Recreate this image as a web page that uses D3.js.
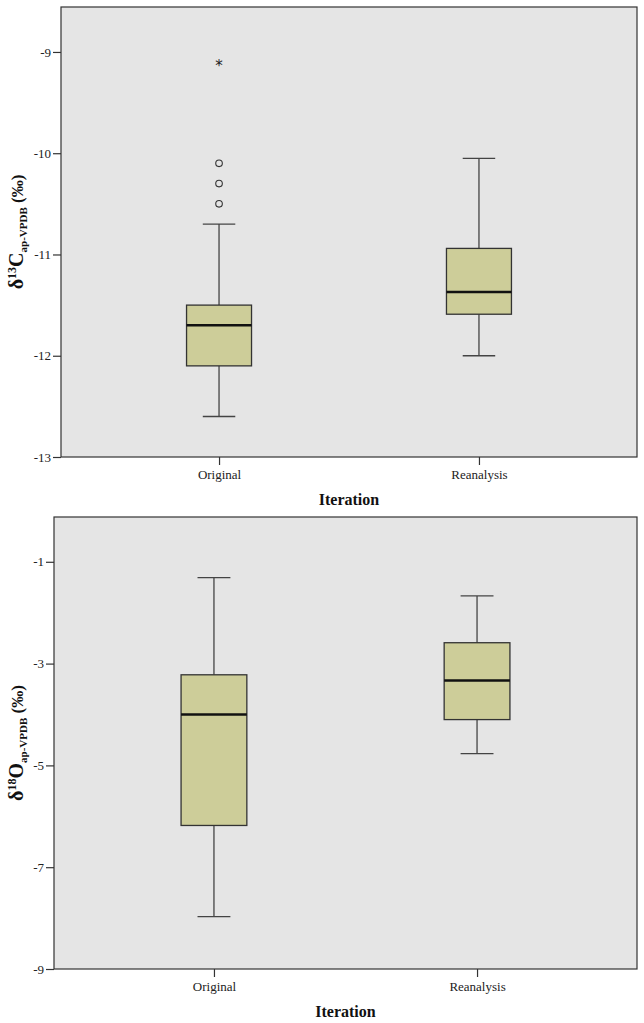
<!DOCTYPE html>
<html>
<head>
<meta charset="utf-8">
<script src="https://cdn.jsdelivr.net/npm/d3@7"></script>
<style>
  body { margin: 0; background: #fff; }
  svg { display: block; font-family: "Liberation Serif", "Times New Roman", serif; }
</style>
</head>
<body>
<div id="chart"></div>
<script>
const groups = ['Original', 'Reanalysis'];

// δ13C panel
const c13Low = [-12.6, -12.0];
const c13Q1 = [-12.1, -11.59];
const c13Median = [-11.7, -11.37];
const c13Q3 = [-11.5, -10.94];
const c13High = [-10.7, -10.05];
const c13Outliers = [[-10.1, -10.3, -10.5], []];
const c13Extremes = [[-9.1], []];
const c13Ticks = [-13, -12, -11, -10, -9];

// δ18O panel
const o18Low = [-7.97, -4.77];
const o18Q1 = [-6.18, -4.1];
const o18Median = [-4.0, -3.33];
const o18Q3 = [-3.22, -2.59];
const o18High = [-1.31, -1.67];
const o18Outliers = [[], []];
const o18Extremes = [[], []];
const o18Ticks = [-9, -7, -5, -3, -1];

const width = 644;
const height = 1023;
const serif = '"Liberation Serif", "Times New Roman", serif';

const svg = d3.select('#chart').append('svg')
    .attr('width', width)
    .attr('height', height);

drawPanel({
  left: 61, right: 637, top: 7, bottom: 457,
  domain: [-13, -8.556], ticks: c13Ticks,
  low: c13Low, q1: c13Q1, median: c13Median, q3: c13Q3, high: c13High,
  outliers: c13Outliers, extremes: c13Extremes,
  element: 'C', mass: '13', labelX: 23
});

drawPanel({
  left: 54, right: 637, top: 517, bottom: 969,
  domain: [-9, -0.12], ticks: o18Ticks,
  low: o18Low, q1: o18Q1, median: o18Median, q3: o18Q3, high: o18High,
  outliers: o18Outliers, extremes: o18Extremes,
  element: 'O', mass: '18', labelX: 23
});

function drawPanel(p) {
  const x = d3.scalePoint()
      .domain(groups)
      .range([p.left, p.right])
      .padding(0.608);
  const step = x.step();
  const boxW = step * 0.25;
  const capW = boxW / 2;

  const y = d3.scaleLinear()
      .domain(p.domain)
      .range([p.bottom, p.top]);

  const g = svg.append('g');

  // plot background + frame
  g.append('rect')
      .attr('x', p.left)
      .attr('y', p.top)
      .attr('width', p.right - p.left)
      .attr('height', p.bottom - p.top)
      .attr('fill', '#e5e5e5')
      .attr('stroke', '#333')
      .attr('stroke-width', 1.2);

  // y axis
  const yAxis = g.append('g')
      .attr('transform', `translate(${p.left},0)`)
      .call(d3.axisLeft(y).tickValues(p.ticks).tickSize(8).tickPadding(2).tickFormat(d3.format('d')))
      .attr('font-family', serif)
      .attr('font-size', 13);
  yAxis.select('.domain').remove();
  yAxis.selectAll('line').attr('stroke', '#333').attr('stroke-width', 1.2);
  yAxis.selectAll('text')
      .attr('fill', '#222')
      .text(d => '-' + Math.abs(d));

  // x axis
  const xAxis = g.append('g')
      .attr('transform', `translate(0,${p.bottom})`)
      .call(d3.axisBottom(x).tickSize(8).tickPadding(5))
      .attr('font-family', serif)
      .attr('font-size', 13);
  xAxis.select('.domain').remove();
  xAxis.selectAll('line').attr('stroke', '#333').attr('stroke-width', 1.2);
  xAxis.selectAll('text').attr('fill', '#222');

  // x title
  g.append('text')
      .attr('x', (p.left + p.right) / 2)
      .attr('y', p.bottom + 48)
      .attr('text-anchor', 'middle')
      .style('font-size', '16px')
      .style('font-weight', 'bold')
      .attr('fill', '#111')
      .text('Iteration');

  // y title
  const cy = (p.top + p.bottom) / 2;
  const yt = g.append('text')
      .attr('transform', `translate(${p.labelX},${cy}) rotate(-90)`)
      .attr('text-anchor', 'middle')
      .attr('fill', '#111')
      .style('font-weight', 'bold')
      .style('font-size', '20px');
  yt.append('tspan').text('δ');
  yt.append('tspan').attr('dy', -7).style('font-size', '12px').text(p.mass);
  yt.append('tspan').attr('dy', 7).text(p.element);
  yt.append('tspan').attr('dy', 4).style('font-size', '11px').text('ap-VPDB');
  yt.append('tspan').attr('dy', -4).style('font-size', '17px').text(' (‰)');

  // boxes
  groups.forEach((name, i) => {
    const cx = x(name);
    const b = g.append('g');

    // whiskers
    b.append('line')
        .attr('x1', cx).attr('x2', cx)
        .attr('y1', y(p.high[i])).attr('y2', y(p.q3[i]))
        .attr('stroke', '#444').attr('stroke-width', 1.3);
    b.append('line')
        .attr('x1', cx).attr('x2', cx)
        .attr('y1', y(p.q1[i])).attr('y2', y(p.low[i]))
        .attr('stroke', '#444').attr('stroke-width', 1.3);
    [p.high[i], p.low[i]].forEach(v => {
      b.append('line')
          .attr('x1', cx - capW / 2).attr('x2', cx + capW / 2)
          .attr('y1', y(v)).attr('y2', y(v))
          .attr('stroke', '#444').attr('stroke-width', 1.3);
    });

    // box
    b.append('rect')
        .attr('x', cx - boxW / 2)
        .attr('y', y(p.q3[i]))
        .attr('width', boxW)
        .attr('height', y(p.q1[i]) - y(p.q3[i]))
        .attr('fill', '#cdcd99')
        .attr('stroke', '#333')
        .attr('stroke-width', 1.3);

    // median
    b.append('line')
        .attr('x1', cx - boxW / 2).attr('x2', cx + boxW / 2)
        .attr('y1', y(p.median[i])).attr('y2', y(p.median[i]))
        .attr('stroke', '#111').attr('stroke-width', 2.5);

    // outliers
    b.selectAll('circle.out')
        .data(p.outliers[i])
        .enter()
        .append('circle')
        .attr('class', 'out')
        .attr('cx', cx)
        .attr('cy', d => y(d))
        .attr('r', 3.3)
        .attr('fill', 'none')
        .attr('stroke', '#333')
        .attr('stroke-width', 1.1);

    // extremes
    b.selectAll('text.ext')
        .data(p.extremes[i])
        .enter()
        .append('text')
        .attr('class', 'ext')
        .attr('x', cx)
        .attr('y', d => y(d) + 9)
        .attr('text-anchor', 'middle')
        .style('font-family', '"DejaVu Sans", sans-serif')
        .style('font-size', '15px')
        .attr('fill', '#222')
        .text('*');
  });
}
</script>
</body>
</html>
